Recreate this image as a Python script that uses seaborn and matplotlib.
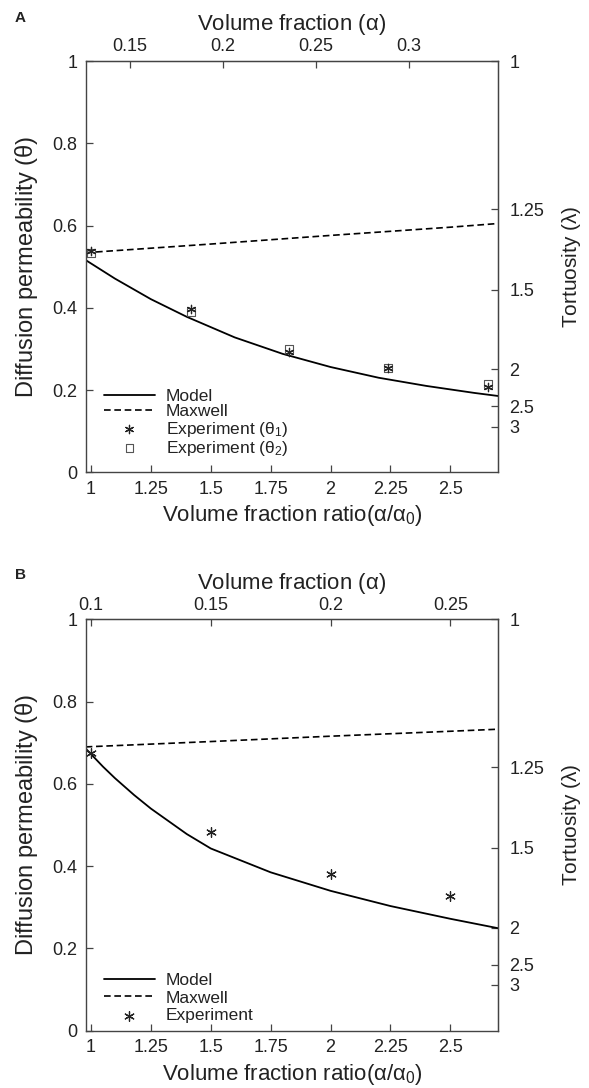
import numpy as np
import pandas as pd
import matplotlib
matplotlib.use("Agg")
import matplotlib.pyplot as plt
import seaborn as sns

# ---- panel A values ----
ratio_model_a = [0.978, 1.1, 1.25, 1.4, 1.6, 1.8, 2.0, 2.2, 2.4, 2.6, 2.70]
theta_model_a = [0.516, 0.471, 0.421, 0.378, 0.328, 0.288, 0.256, 0.230, 0.210, 0.193, 0.1855]
ratio_maxwell_a = [0.978, 1.5, 2.0, 2.5, 2.70]
theta_maxwell_a = [0.534, 0.555, 0.576, 0.596, 0.605]
ratio_exp_a = [1.0, 1.416, 1.827, 2.241, 2.656]
theta1_exp_a = [0.538, 0.397, 0.293, 0.253, 0.208]
theta2_exp_a = [0.534, 0.389, 0.299, 0.254, 0.215]
alpha0_a = 0.129
alpha_ticks_a = [0.15, 0.2, 0.25, 0.3]

# ---- panel B values ----
ratio_model_b = [0.978, 1.05, 1.1, 1.18, 1.25, 1.4, 1.5, 1.75, 2.0, 2.25, 2.5, 2.70]
theta_model_b = [0.686, 0.642, 0.614, 0.573, 0.540, 0.478, 0.443, 0.385, 0.340, 0.303, 0.272, 0.249]
ratio_maxwell_b = [0.978, 1.5, 2.0, 2.5, 2.70]
theta_maxwell_b = [0.690, 0.703, 0.716, 0.728, 0.733]
ratio_exp_b = [1.0, 1.5, 2.0, 2.5]
theta_exp_b = [0.674, 0.482, 0.380, 0.328]
alpha0_b = 0.1
alpha_ticks_b = [0.1, 0.15, 0.2, 0.25]

ratio_ticks = [1, 1.25, 1.5, 1.75, 2, 2.25, 2.5]
theta_ticks = [0, 0.2, 0.4, 0.6, 0.8, 1]
lambda_ticks = [1, 1.25, 1.5, 2, 2.5, 3]

sns.set_style("ticks")
plt.rcParams['font.family'] = ['Liberation Sans', 'DejaVu Sans']
plt.rcParams['mathtext.fontset'] = 'custom'
plt.rcParams['mathtext.rm'] = 'Liberation Sans'
plt.rcParams['mathtext.it'] = 'Liberation Sans'

TXT = '#222222'
SPN = '#444444'
STAR = (6, 2, 0)
TICK_FS = 13


def theta_to_lam(t):
    t = np.clip(np.asarray(t, dtype=float), 1e-6, None)
    return 1.0 / np.sqrt(t)


def lam_to_theta(l):
    l = np.clip(np.asarray(l, dtype=float), 1e-6, None)
    return 1.0 / l ** 2


def style_panel(ax, alpha0, alpha_ticks):
    ax.set_xlim(0.978, 2.70)
    ax.set_ylim(0, 1)
    ax.set_xticks(ratio_ticks, labels=['1', '1.25', '1.5', '1.75', '2', '2.25', '2.5'])
    ax.set_yticks(theta_ticks, labels=['0', '0.2', '0.4', '0.6', '0.8', '1'])
    ax.tick_params(direction='in', length=5, width=0.9, color=SPN, labelcolor=TXT,
                   labelsize=TICK_FS)
    ax.tick_params(axis='x', pad=6)
    ax.tick_params(axis='y', pad=6)
    for s in ax.spines.values():
        s.set_color(SPN)
        s.set_linewidth(1.0)
    ax.set_xlabel(r'Volume fraction ratio($\alpha/\alpha_0$)', fontsize=16, color=TXT, labelpad=4)
    ax.set_ylabel(r'Diffusion permeability ($\theta$)', fontsize=17, color=TXT)
    ax.yaxis.set_label_coords(-0.11, 0.5)

    top = ax.secondary_xaxis('top', functions=(lambda r: r * alpha0, lambda a: a / alpha0))
    top.set_xticks(alpha_ticks, labels=[f'{v:g}' for v in alpha_ticks])
    top.tick_params(direction='in', length=5, width=0.9, color=SPN, labelcolor=TXT,
                    labelsize=TICK_FS, pad=4)
    top.set_xlabel(r'Volume fraction ($\alpha$)', fontsize=16, color=TXT, labelpad=6)
    for s in top.spines.values():
        s.set_color(SPN)

    right = ax.secondary_yaxis('right', functions=(theta_to_lam, lam_to_theta))
    right.set_yticks(lambda_ticks, labels=['1', '1.25', '1.5', '2', '2.5', '3'])
    right.tick_params(direction='in', length=5, width=0.9, color=SPN, labelcolor=TXT,
                      labelsize=TICK_FS, pad=8)
    right.set_ylabel(r'Tortuosity ($\lambda$)', fontsize=15, color=TXT, labelpad=11)
    for s in right.spines.values():
        s.set_color(SPN)


fig = plt.figure(figsize=(5.89, 10.88), dpi=100)
ax_a = fig.add_axes([0.1455, 0.5659, 0.7005, 0.378])
ax_b = fig.add_axes([0.1455, 0.0527, 0.7005, 0.378])

leg_kw = dict(loc='lower left', frameon=False, fontsize=12.5, handlelength=2.9,
              handletextpad=0.65, borderpad=0, borderaxespad=0,
              scatterpoints=1, labelcolor=TXT)

# panel A
df_ma = pd.DataFrame({'r': ratio_model_a, 't': theta_model_a})
df_xa = pd.DataFrame({'r': ratio_maxwell_a, 't': theta_maxwell_a})
df_ea = pd.DataFrame({'r': ratio_exp_a, 't1': theta1_exp_a, 't2': theta2_exp_a})
sns.lineplot(data=df_ma, x='r', y='t', ax=ax_a, color='black', lw=1.3, label='Model')
sns.lineplot(data=df_xa, x='r', y='t', ax=ax_a, color='black', lw=1.2,
             linestyle=(0, (4, 2.2)), label='Maxwell')
sns.scatterplot(data=df_ea, x='r', y='t1', ax=ax_a, marker=STAR, color='#222222', s=36,
                linewidth=0.9, label=r'Experiment ($\theta_1$)', zorder=4)
sns.scatterplot(data=df_ea, x='r', y='t2', ax=ax_a, marker='s', facecolors='none',
                edgecolor='#555555', s=32, linewidth=0.8, label=r'Experiment ($\theta_2$)', zorder=3)
style_panel(ax_a, alpha0_a, alpha_ticks_a)
ax_a.legend(bbox_to_anchor=(0.045, 0.035), labelspacing=0.02, **leg_kw)

# panel B
df_mb = pd.DataFrame({'r': ratio_model_b, 't': theta_model_b})
df_xb = pd.DataFrame({'r': ratio_maxwell_b, 't': theta_maxwell_b})
df_eb = pd.DataFrame({'r': ratio_exp_b, 't': theta_exp_b})
sns.lineplot(data=df_mb, x='r', y='t', ax=ax_b, color='black', lw=1.3, label='Model')
sns.lineplot(data=df_xb, x='r', y='t', ax=ax_b, color='black', lw=1.2,
             linestyle=(0, (4, 2.2)), label='Maxwell')
sns.scatterplot(data=df_eb, x='r', y='t', ax=ax_b, marker=STAR, color='#222222', s=48,
                linewidth=0.9, label='Experiment', zorder=4)
style_panel(ax_b, alpha0_b, alpha_ticks_b)
ax_b.legend(bbox_to_anchor=(0.045, 0.018), labelspacing=0.15, **leg_kw)

fig.text(15 / 589, 1 - 18 / 1088, 'A', fontsize=11, fontweight='bold', color=TXT,
         ha='left', va='center')
fig.text(15 / 589, 1 - 575 / 1088, 'B', fontsize=11, fontweight='bold', color=TXT,
         ha='left', va='center')

fig.savefig('out.png', dpi=100)
